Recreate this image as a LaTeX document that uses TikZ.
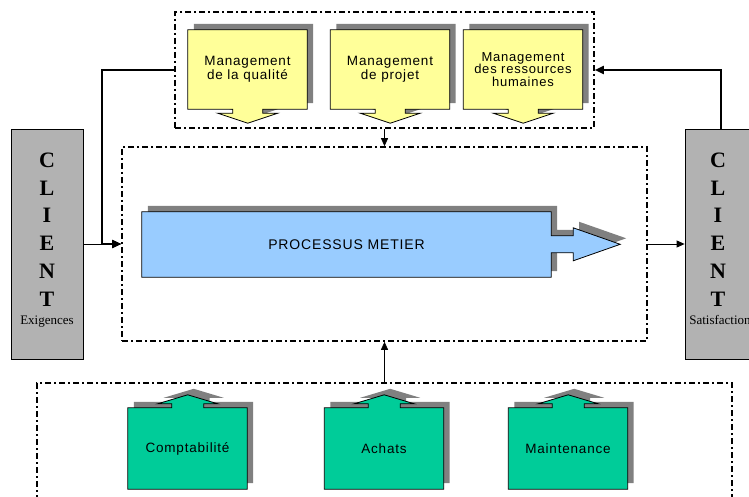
\documentclass[tikz,border=0pt]{standalone}
\usepackage{fontspec}
\setmainfont{Liberation Sans}
\newfontfamily\boxfont[LetterSpace=6]{Liberation Sans}
\newfontfamily\clientfont{Liberation Serif}
\usetikzlibrary{arrows.meta,backgrounds}
\definecolor{cyel}{RGB}{255,255,153}
\definecolor{cgrn}{RGB}{0,204,153}
\definecolor{cblu}{RGB}{153,204,255}
\definecolor{cgry}{RGB}{178,178,178}
\definecolor{cshd}{RGB}{128,128,128}

\begin{document}
\begin{tikzpicture}[x=1pt, y=1pt,
  frame/.style={draw=black, line width=1.6pt, dash pattern=on 6pt off 3pt on 2pt off 3pt, inner sep=0pt},
  mbox/.style={inner sep=0pt, minimum width=119pt, minimum height=79pt, align=center, font=\boxfont\fontsize{13.5pt}{13.5pt}\selectfont},
  cbox/.style={draw=black, fill=cgry, line width=0.8pt, minimum width=72pt, minimum height=230pt},
  ctext/.style={inner sep=0pt, align=center, font=\clientfont\bfseries\fontsize{22pt}{27.8pt}\selectfont},
  csub/.style={inner sep=0pt, font=\clientfont\fontsize{13pt}{15pt}\selectfont},
  flow/.style={line width=0.8pt, -{Triangle[length=8pt, width=7pt]}},
  bigflow/.style={line width=1.8pt, -{Triangle[length=9pt, width=8pt]}},
  shd/.style={fill=cshd, draw=none, transform canvas={shift={(6pt,6pt)}}},
  downtail/.style={insert path={(#1.north west) -- (#1.north east) -- (#1.south east) -- ++(-44.5,0) -- ++(0,-4) -- ++(15,0) -- ++(-30,-10) -- ++(-30,10) -- ++(15,0) -- ++(0,4) -- (#1.south west) -- cycle}},
  uptail/.style={insert path={(#1.south west) -- (#1.south east) -- (#1.north east) -- ++(-43.5,0) -- ++(0,4) -- ++(14,0) -- ++(-30,9) -- ++(-30,-9) -- ++(14,0) -- ++(0,-4) -- (#1.north west) -- cycle}}]
\useasboundingbox (0,0) rectangle (749,-497);

% frames
\node (mgmt) [frame, minimum width=419pt, minimum height=116pt] at (384.5,-70) {};
\node (metier) [frame, minimum width=525pt, minimum height=194pt] at (384.5,-244) {};
\node (support) [frame, minimum width=695pt, minimum height=150pt] at (384.5,-458) {};

% clients
\node (clientL) [cbox] at (47,-244) {};
\node (clientR) [cbox] at (721,-244) {};
\node (clientLtxt) [ctext, anchor=north] at (47,-152.5) {C\\L\\I\\E\\N\\T};
\node (clientRtxt) [ctext, anchor=north] at (718,-152.5) {C\\L\\I\\E\\N\\T};
\node (exig) [csub, anchor=base] at (47,-324) {Exigences};
\node (satis) [csub, anchor=base] at (720,-324) {Satisfaction};

% management
\node (qual) [mbox] at (247.5,-69.5) {Management\\de la qualit\'e};
\node (proj) [mbox] at (390,-69.5) {Management\\de projet};
\node (rh) [mbox, font=\boxfont\fontsize{13pt}{12.5pt}\selectfont] at (523,-69.5) {Management\\des ressources\\humaines};

% processus
\node (proc) [inner sep=0pt, minimum width=409pt, minimum height=65pt, font=\boxfont\fontsize{14pt}{16pt}\selectfont] at (346.5,-244.5) {PROCESSUS METIER};

% support
\node (compta) [mbox, minimum height=81pt] at (187.5,-448.5) {Comptabilit\'e};
\node (achats) [mbox, minimum height=81pt] at (384,-448.5) {Achats};
\node (maint) [mbox, minimum height=81pt] at (568,-448.5) {Maintenance};

\begin{scope}[on background layer]
\fill[shd] [downtail=qual];
\fill[shd] [downtail=proj];
\fill[shd] [downtail=rh];
\fill[shd] [uptail=compta];
\fill[shd] [uptail=achats];
\fill[shd] [uptail=maint];
\fill[shd] (proc.north west) -- (proc.north east) -- ++(0,-24) -- ++(22,0) -- ++(0,8) -- ++(47,-16.5) -- ++(-47,-16.5) -- ++(0,8) -- ++(-22,0) -- (proc.south east) -- (proc.south west) -- cycle;
\draw[fill=cyel, line width=0.8pt] [downtail=qual];
\draw[fill=cyel, line width=0.8pt] [downtail=proj];
\draw[fill=cyel, line width=0.8pt] [downtail=rh];
\draw[fill=cgrn, line width=0.8pt] [uptail=compta];
\draw[fill=cgrn, line width=0.8pt] [uptail=achats];
\draw[fill=cgrn, line width=0.8pt] [uptail=maint];
\draw[fill=cblu, line width=0.8pt] (proc.north west) -- (proc.north east) -- ++(0,-24) -- ++(22,0) -- ++(0,8) -- ++(47,-16.5) -- ++(-47,-16.5) -- ++(0,8) -- ++(-22,0) -- (proc.south east) -- (proc.south west) -- cycle;
\end{scope}

% links
\coordinate (bendL) at (102,-244);
\draw[bigflow] (mgmt.west) -| (bendL) -- (metier.west);
\draw[bigflow] (clientR.north) |- (mgmt.east);
\draw[flow] (clientL.east) -- (metier.west);
\draw[flow] (metier.east) -- (clientR.west);
\draw[flow] (mgmt.south) -- (metier.north);
\draw[flow] (support.north) -- (metier.south);
\end{tikzpicture}
\end{document}
